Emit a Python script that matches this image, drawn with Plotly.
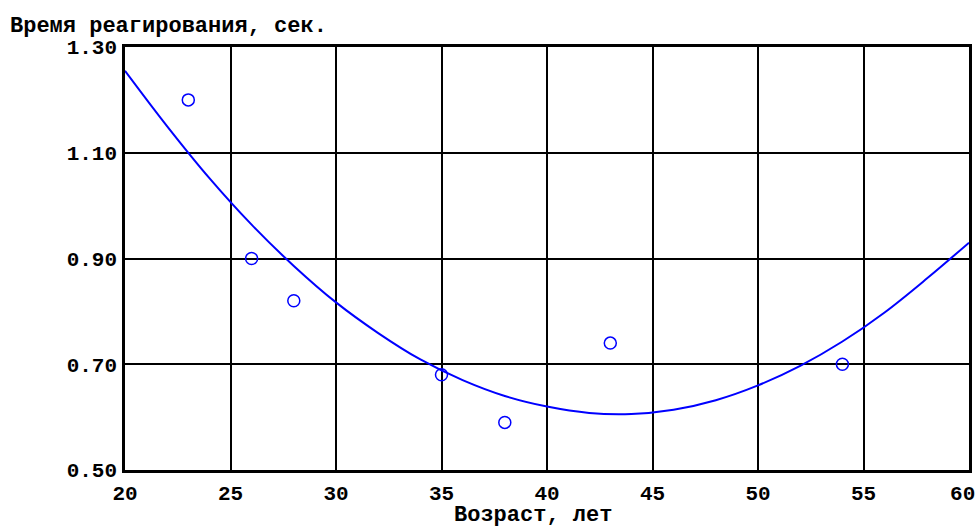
import plotly.graph_objects as go

# Observed data points (age, reaction time)
age_points = [23, 26, 28, 35, 38, 43, 54]
time_points = [1.20, 0.90, 0.82, 0.68, 0.59, 0.74, 0.70]

# Trend curve, values
curve_age = [20, 22, 24, 26, 28, 30, 32, 34, 36, 38, 40, 42, 44, 46, 48, 50, 52, 54, 56, 58, 60]
curve_time = [1.255, 1.150, 1.052, 0.964, 0.886, 0.817, 0.759, 0.709, 0.670, 0.640, 0.620,
              0.608, 0.606, 0.614, 0.632, 0.660, 0.697, 0.743, 0.798, 0.862, 0.930]

x_ticks = [20, 25, 30, 35, 40, 45, 50, 55, 60]
x_tick_labels = ["20", "25", "30", "35", "40", "45", "50", "55", "60\u00a0"]
y_ticks = [0.50, 0.70, 0.90, 1.10, 1.30]
y_tick_labels = ["0.50", "0.70", "0.90", "1.10", "1.30"]

y_title = "Время реагирования, сек."
x_title = "Возраст, лет"

FONT = "Liberation Mono"
FS = 22
TFS = 21

fig = go.Figure()
fig.add_trace(go.Scatter(x=curve_age, y=curve_time, mode="lines",
                         line=dict(color="#0000FF", width=2, shape="spline"),
                         hoverinfo="skip", showlegend=False))
fig.add_trace(go.Scatter(x=age_points, y=time_points, mode="markers",
                         marker=dict(symbol="circle-open", size=12, color="#0000FF",
                                     line=dict(width=1.5, color="#0000FF")),
                         showlegend=False))

tick_font = dict(family=FONT, size=TFS, color="black", weight="bold")

fig.update_xaxes(range=[20, 60], tickvals=x_ticks, ticktext=x_tick_labels,
                 showgrid=True, gridcolor="black", gridwidth=1.5,
                 showline=True, linecolor="black", linewidth=2.5, mirror=True,
                 zeroline=False, ticks="", tickfont=tick_font, ticklabelstandoff=2,
                 ticklabeloverflow="allow", automargin=False)
fig.update_yaxes(range=[0.50, 1.30], tickvals=y_ticks, ticktext=y_tick_labels,
                 showgrid=True, gridcolor="black", gridwidth=1.5,
                 showline=True, linecolor="black", linewidth=2.5, mirror=True,
                 zeroline=False, ticks="", tickfont=tick_font, ticklabelstandoff=1,
                 ticklabeloverflow="allow", automargin=False)

fig.update_layout(
    width=980, height=528,
    margin=dict(l=125, r=11, t=47, b=58),
    paper_bgcolor="white", plot_bgcolor="white",
    title=dict(text=y_title, x=10/980, xanchor="left", xref="container",
               y=1 - 24/528, yanchor="middle", yref="container",
               font=dict(family=FONT, size=FS, color="black", weight="bold"),
               automargin=False),
    annotations=[dict(text=x_title, xref="paper", yref="paper",
                      x=(533 - 125) / 844, xanchor="center",
                      y=-(515 - 470) / 422, yanchor="middle", showarrow=False,
                      font=dict(family=FONT, size=FS, color="black", weight="bold"))],
)

fig.write_html("out.html", config={"displayModeBar": False},
               post_script="document.body.style.margin='0';document.body.style.padding='0';")
